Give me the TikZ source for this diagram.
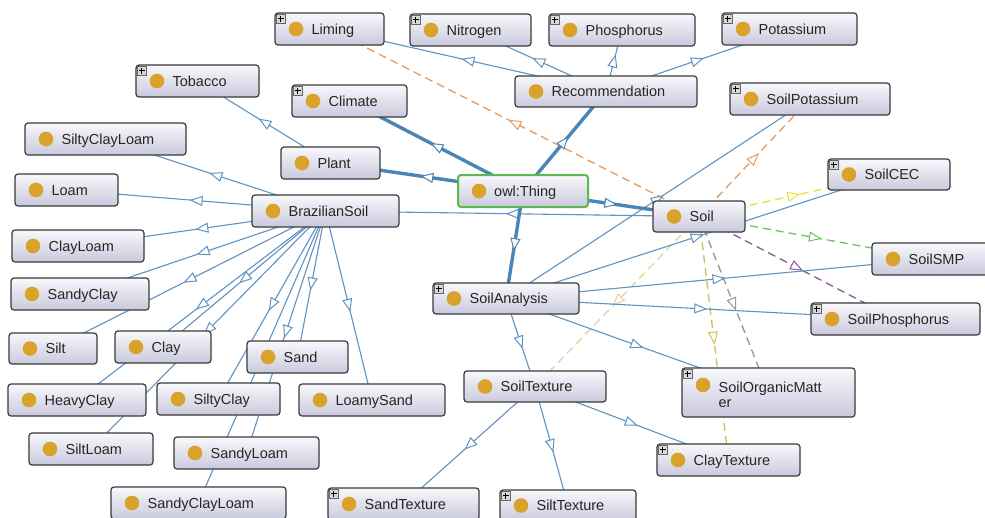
\documentclass[tikz,border=0pt]{standalone}
\usepackage{fontspec}
\setmainfont{Liberation Sans}
\usetikzlibrary{arrows.meta,decorations.markings,backgrounds}

\definecolor{boxline}{HTML}{3A3A3A}
\definecolor{boxtop}{HTML}{F8F8FC}
\definecolor{boxbot}{HTML}{C9C9DD}
\definecolor{dotfill}{HTML}{D9A22B}
\definecolor{isa}{HTML}{5E93C3}
\definecolor{isathick}{HTML}{4A85B8}
\definecolor{rorange}{HTML}{E99A5C}
\definecolor{ryellow}{HTML}{E6DF3E}
\definecolor{rgreen}{HTML}{6CC45F}
\definecolor{rpurple}{HTML}{8C5A9C}
\definecolor{rolive}{HTML}{CDC256}
\definecolor{rgray}{HTML}{959595}
\definecolor{rbeige}{HTML}{E6D29A}
\definecolor{thingline}{HTML}{5DB84E}
\definecolor{plusfill}{HTML}{D8D8D8}

\tikzset{
  x=1pt, y=-1pt,
  cls/.style={draw=boxline, line width=1.2pt, rounded corners=3pt,
    top color=boxtop, bottom color=boxbot, inner sep=0pt,
    path picture={\fill[dotfill] ([xshift=21pt,yshift=#1]path picture bounding box.west) circle (7.3pt);}},
  cls/.default=0pt,
  lbl/.style={anchor=base west, inner sep=0pt, text=black!85,
    font=\fontsize{14.5}{16}\selectfont},
  midtip/.style={postaction={decorate}, decoration={markings,
    mark=at position 0.5 with {\arrow[xshift=6.5pt]{Triangle[open, fill=white, length=13pt, width=10pt, line width=1pt]}}}},
  isa/.style={draw=isa, line width=1.1pt, midtip},
  isaroot/.style={draw=isathick, line width=3.4pt, midtip},
  rel/.style={draw=#1, line width=1.3pt, dash pattern=on 8pt off 5pt, midtip},
}

% class box: name, left, top, right, bottom, label
\newcommand\owlclass[7][]{%
  \node[cls, #1, minimum width={#5-#3}, minimum height={#6-#4}] (#2) at ({(#3+#5)/2},{(#4+#6)/2}) {};
  \node[lbl] (#2-t) at ([xshift=37pt,yshift=-5.4pt]#2.west) {#7};
}
% small expand marker in the top left corner of a class box
\newcommand\plusicon[1]{%
  \draw[draw=black!60, fill=plusfill, line width=0.6pt] ([xshift=2pt,yshift=-2pt]#1.north west) rectangle ++(9pt,-9pt);
  \draw[black, line width=0.9pt] ([xshift=6.5pt,yshift=-3.8pt]#1.north west) -- ++(0pt,-5.4pt)
    ([xshift=3.8pt,yshift=-6.5pt]#1.north west) -- ++(5.4pt,0pt);
}

\begin{document}
\begin{tikzpicture}
\useasboundingbox (0,0) rectangle (985,517);

% classes
\owlclass{liming}{275}{13}{384}{45}{Liming}
\owlclass{nitrogen}{410}{14}{531}{46}{Nitrogen}
\owlclass{phosphorus}{549}{14}{695}{46}{Phosphorus}
\owlclass{potassium}{722}{13}{857}{45}{Potassium}
\owlclass{rec}{515}{76}{697}{107}{Recommendation}
\owlclass{climate}{292}{85}{407}{117}{Climate}
\owlclass{tobacco}{136}{65}{259}{97}{Tobacco}
\owlclass{soilpot}{730}{83}{890}{115}{SoilPotassium}
\owlclass{siltyclayloam}{25}{123}{186}{155}{SiltyClayLoam}
\owlclass{plant}{281}{147}{380}{179}{Plant}
\owlclass[draw=thingline, line width=2pt]{thing}{458}{175}{588}{207}{owl:Thing}
\owlclass{soilcec}{828}{159}{950}{190}{SoilCEC}
\owlclass{loam}{15}{174}{118}{206}{Loam}
\owlclass{brsoil}{252}{195}{399}{227}{BrazilianSoil}
\owlclass{soil}{653}{201}{745}{232}{Soil}
\owlclass{clayloam}{12}{230}{144}{262}{ClayLoam}
\owlclass{soilsmp}{872}{243}{992}{275}{SoilSMP}
\owlclass{sandyclay}{11}{278}{149}{310}{SandyClay}
\owlclass{soilanalysis}{433}{283}{579}{314}{SoilAnalysis}
\owlclass{soilphos}{811}{303}{980}{335}{SoilPhosphorus}
\owlclass{silt}{9}{333}{97}{364}{Silt}
\owlclass{clay}{115}{331}{211}{363}{Clay}
\owlclass{sand}{247}{341}{348}{373}{Sand}
\owlclass{soiltexture}{464}{371}{606}{402}{SoilTexture}
\owlclass{heavyclay}{8}{384}{146}{416}{HeavyClay}
\owlclass{siltyclay}{157}{383}{280}{415}{SiltyClay}
\owlclass{loamysand}{299}{384}{445}{416}{LoamySand}
\owlclass{siltloam}{29}{433}{153}{465}{SiltLoam}
\owlclass{sandyloam}{174}{437}{319}{469}{SandyLoam}
\owlclass{claytexture}{657}{444}{800}{476}{ClayTexture}
\owlclass{sandyclayloam}{111}{487}{286}{519}{SandyClayLoam}
\owlclass{sandtexture}{328}{488}{479}{520}{SandTexture}
\owlclass{silttexture}{500}{490}{636}{521}{SiltTexture}

% two-line class box
\node[cls=7.5pt, minimum width=173, minimum height=49] (som) at (768.5,392.5) {};
\node[lbl] (som-t) at ([xshift=37pt]som.west) {SoilOrganicMatt};
\node[lbl] (som-t2) at ([xshift=37pt,yshift=-15pt]som.west) {er};

\foreach \c in {liming,nitrogen,phosphorus,potassium,climate,tobacco,soilpot,
  soilcec,soilanalysis,soilphos,som,claytexture,sandtexture,silttexture}
  {\plusicon{\c}}

\begin{scope}[on background layer]
  \fill[white] (0,0) rectangle (985,517);

  % object property links
  \path[rel=rorange] (soil.center) -- (liming.center);
  \path[rel=rorange] (soil.center) -- (soilpot.center);
  \path[rel=ryellow] (soil.center) -- (soilcec.center);
  \path[rel=rgreen] (soil.center) -- (soilsmp.center);
  \path[rel=rpurple] (soil.center) -- (soilphos.center);
  \path[rel=rolive] (soil.center) -- (claytexture.center);
  \path[rel=rgray] (soil.center) -- (som.center);
  \path[rel=rbeige] (soil.center) -- (soiltexture.center);

  % subclass links
  \foreach \c in {liming,nitrogen,phosphorus,potassium}
    \path[isa] (rec.center) -- (\c.center);
  \path[isa] (plant.center) -- (tobacco.center);
  \path[isa] (soil.center) -- (brsoil.center);
  \foreach \c in {siltyclayloam,loam,clayloam,sandyclay,silt,clay,heavyclay,
    siltyclay,sand,loamysand,siltloam,sandyloam,sandyclayloam}
    \path[isa] (brsoil.center) -- (\c.center);
  \foreach \c in {soilpot,soilcec,soilsmp,soilphos,som,soiltexture}
    \path[isa] (soilanalysis.center) -- (\c.center);
  \foreach \c in {sandtexture,silttexture,claytexture}
    \path[isa] (soiltexture.center) -- (\c.center);

  % top level classes
  \foreach \c in {plant,climate,rec,soil,soilanalysis}
    \path[isaroot] (thing.center) -- (\c.center);
\end{scope}
\end{tikzpicture}
\end{document}
